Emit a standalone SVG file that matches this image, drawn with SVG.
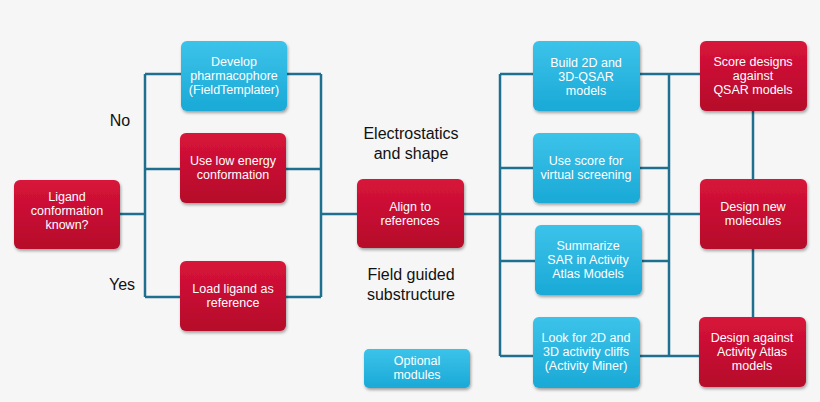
<svg xmlns="http://www.w3.org/2000/svg" width="820" height="402" viewBox="0 0 820 402">
<defs>
<linearGradient id="gr" x1="0" y1="0" x2="0" y2="1"><stop offset="0" stop-color="#d8143a"/><stop offset="1" stop-color="#b5082a"/></linearGradient>
<linearGradient id="gb" x1="0" y1="0" x2="0" y2="1"><stop offset="0" stop-color="#3cc3ea"/><stop offset="1" stop-color="#1aa9d6"/></linearGradient>
<filter id="sh" x="-10%" y="-10%" width="130%" height="130%"><feDropShadow dx="1" dy="2" stdDeviation="1.5" flood-opacity="0.35"/></filter>
</defs>
<style>
.r{fill:url(#gr);filter:url(#sh)}
.b{fill:url(#gb);filter:url(#sh)}
.t{font-family:"Liberation Sans",Arial,sans-serif;font-size:12.5px;fill:#fff;text-anchor:middle}
.l{font-family:"Liberation Sans",Arial,sans-serif;font-size:16px;fill:#111;text-anchor:middle}
.c{fill:none;stroke:#1f6f8f;stroke-width:2.5}
</style>
<rect width="820" height="402" fill="#f6f6f6"/>
<g id="connectors" class="c">
<path d="M120 214H145M145 74V297M145 74H181M145 169H180M145 297H180"/>
<path d="M287 74H321M286 169H321M286 297H321M321 74V297M321 214H357"/>
<path d="M464 214H700M500 74V356M500 74H533M500 168H533M500 261H535M500 356H533"/>
<path d="M640 74H700M640 168H669M642 261H669M640 356H699M669 74V356"/>
<path d="M753 111V179M753 249V317"/>
</g>
<g id="ligand"><rect class="r" x="14" y="180" width="106" height="69" rx="6"/><text class="t" x="67" y="201">Ligand</text><text class="t" x="67" y="215">conformation</text><text class="t" x="67" y="229">known?</text></g>
<g id="develop"><rect class="b" x="181" y="41" width="106" height="70" rx="6"/><text class="t" x="234" y="66">Develop</text><text class="t" x="234" y="80">pharmacophore</text><text class="t" x="234" y="94">(FieldTemplater)</text></g>
<g id="lowenergy"><rect class="r" x="180" y="133" width="106" height="70" rx="6"/><text class="t" x="233" y="165">Use low energy</text><text class="t" x="233" y="179">conformation</text></g>
<g id="load"><rect class="r" x="180" y="261" width="106" height="70" rx="6"/><text class="t" x="233" y="293">Load ligand as</text><text class="t" x="233" y="307">reference</text></g>
<g id="align"><rect class="r" x="357" y="179" width="107" height="69" rx="6"/><text class="t" x="410" y="211">Align to</text><text class="t" x="410" y="225">references</text></g>
<g id="labels">
<text class="l" x="120" y="126">No</text><text class="l" x="122" y="290">Yes</text>
<text class="l" x="411" y="139">Electrostatics</text><text class="l" x="411" y="159">and shape</text>
<text class="l" x="411" y="280">Field guided</text><text class="l" x="411" y="300">substructure</text>
</g>
<g id="build"><rect class="b" x="533" y="41" width="107" height="70" rx="6"/><text class="t" x="586" y="67">Build 2D and</text><text class="t" x="586" y="81">3D-QSAR</text><text class="t" x="586" y="95">models</text></g>
<g id="score"><rect class="b" x="533" y="133" width="107" height="70" rx="6"/><text class="t" x="586" y="165">Use score for</text><text class="t" x="586" y="179">virtual screening</text></g>
<g id="summ"><rect class="b" x="535" y="225" width="107" height="70" rx="6"/><text class="t" x="588" y="250">Summarize</text><text class="t" x="588" y="264">SAR in Activity</text><text class="t" x="588" y="278">Atlas Models</text></g>
<g id="look"><rect class="b" x="533" y="317" width="107" height="71" rx="6"/><text class="t" x="586" y="342">Look for 2D and</text><text class="t" x="586" y="356">3D activity cliffs</text><text class="t" x="586" y="370">(Activity Miner)</text></g>
<g id="scoredesigns"><rect class="r" x="700" y="41" width="107" height="70" rx="6"/><text class="t" x="753" y="66">Score designs</text><text class="t" x="753" y="80">against</text><text class="t" x="753" y="94">QSAR models</text></g>
<g id="designnew"><rect class="r" x="700" y="179" width="107" height="70" rx="6"/><text class="t" x="753" y="211">Design new</text><text class="t" x="753" y="225">molecules</text></g>
<g id="designatlas"><rect class="r" x="699" y="317" width="107" height="70" rx="6"/><text class="t" x="752" y="342">Design against</text><text class="t" x="752" y="356">Activity Atlas</text><text class="t" x="752" y="370">models</text></g>
<g id="optional"><rect class="b" x="364" y="349" width="106" height="39" rx="5"/><text class="t" x="417" y="365">Optional</text><text class="t" x="417" y="379">modules</text></g>
</svg>
